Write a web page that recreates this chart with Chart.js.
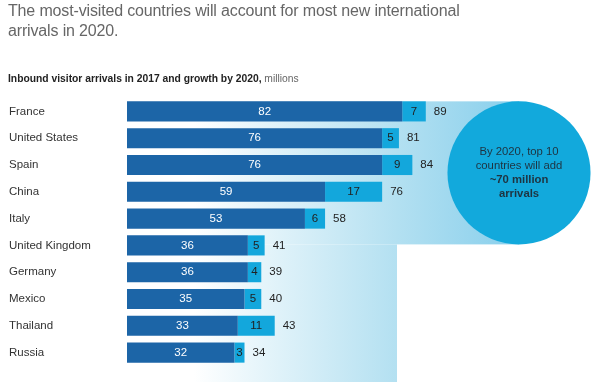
<!DOCTYPE html>
<html lang="en">
<head>
<meta charset="UTF-8">
<title>Inbound visitor arrivals</title>
<style>
  html, body { margin: 0; padding: 0; background: #fff; }
  body { width: 605px; height: 383px; position: relative; overflow: hidden; font-family: "Liberation Sans", Arial, sans-serif; }
  .title { position: absolute; left: 8px; top: 1px; font-size: 16px; line-height: 20px; color: #666; letter-spacing: -0.15px; }
  .subtitle { position: absolute; left: 8px; top: 72px; font-size: 10.3px; line-height: 13px; color: #222; font-weight: bold; }
  .subtitle span { font-weight: normal; color: #666; }
  .chart-box { position: absolute; left: 0; top: 0; width: 605px; height: 383px; }
</style>
<script src="https://cdn.jsdelivr.net/npm/chart.js"></script>
</head>
<body>
<div class="chart-box"><canvas id="arrivals" width="605" height="383"></canvas></div>
<div class="title">The most-visited countries will account for most new international<br>arrivals in 2020.</div>
<div class="subtitle">Inbound visitor arrivals in 2017 and growth by 2020, <span>millions</span></div>

<script>
const countries = ["France", "United States", "Spain", "China", "Italy", "United Kingdom", "Germany", "Mexico", "Thailand", "Russia"];
const arrivals2017 = [82, 76, 76, 59, 53, 36, 36, 35, 33, 32];
const growthTo2020 = [7, 5, 9, 17, 6, 5, 4, 5, 11, 3];
const totals2020 = [89, 81, 84, 76, 58, 41, 39, 40, 43, 34];
const calloutLines = [["By 2020, top 10", false], ["countries will add", false], ["~70 million", true], ["arrivals", true]];

const darkBlue = '#1c65a7';
const lightBlue = '#13a7dc';

Chart.defaults.font.family = '"Liberation Sans", Arial, sans-serif';
Chart.defaults.font.size = 11;
Chart.defaults.color = '#333';

// gradient panel + circle callout behind the bars
const backdrop = {
  id: 'backdrop',
  beforeDatasetsDraw(chart) {
    const ctx = chart.ctx;
    const x = chart.scales.x, y = chart.scales.y;
    const bar0 = chart.getDatasetMeta(0).data[0];
    const top = bar0.y - bar0.height / 2;
    const step = y.getPixelForValue(5) - 1;
    const left = x.getPixelForValue(0);
    const r = (step - top) / 2;
    const cx = left + 392, cy = top + r;
    const lowRight = left + 270;

    const g = ctx.createLinearGradient(left, 0, cx, 0);
    g.addColorStop(0, '#ffffff');
    g.addColorStop(0.17, '#ffffff');
    g.addColorStop(0.69, '#b3e0f1');
    g.addColorStop(1, '#88cfec');
    ctx.save();
    ctx.fillStyle = g;
    ctx.fillRect(left, top, cx - left, step - top);
    ctx.fillRect(left, step, lowRight - left, chart.height - 1 - step);

    ctx.beginPath();
    ctx.arc(cx, cy, r, 0, Math.PI * 2);
    ctx.fillStyle = '#12a9dc';
    ctx.fill();

    ctx.fillStyle = '#1f3340';
    ctx.textAlign = 'center';
    ctx.textBaseline = 'middle';
    calloutLines.forEach(([txt, bold], i) => {
      ctx.font = (bold ? 'bold ' : '') + '11.3px "Liberation Sans", Arial, sans-serif';
      ctx.fillText(txt, cx, cy - 21 + i * 14);
    });
    ctx.restore();
  }
};

const barLabels = {
  id: 'barLabels',
  afterDatasetsDraw(chart) {
    const ctx = chart.ctx;
    const base = chart.getDatasetMeta(0).data;
    const add = chart.getDatasetMeta(1).data;
    ctx.save();
    ctx.font = '11.5px "Liberation Sans", Arial, sans-serif';
    ctx.textBaseline = 'middle';
    ctx.textAlign = 'center';
    base.forEach((bar, i) => {
      ctx.fillStyle = '#fff';
      ctx.fillText(arrivals2017[i], (bar.x + bar.base) / 2, bar.y);
      const b2 = add[i];
      ctx.fillStyle = '#222';
      ctx.fillText(growthTo2020[i], (b2.x + b2.base) / 2, b2.y);
      ctx.textAlign = 'left';
      ctx.fillText(totals2020[i], b2.x + 8, b2.y);
      ctx.textAlign = 'center';
    });
    ctx.restore();
  }
};

new Chart(document.getElementById('arrivals'), {
  type: 'bar',
  data: {
    labels: countries,
    datasets: [
      { label: '2017', data: arrivals2017, backgroundColor: darkBlue, borderWidth: 0 },
      { label: 'Growth by 2020', data: growthTo2020, backgroundColor: lightBlue, borderWidth: 0 }
    ]
  },
  options: {
    indexAxis: 'y',
    responsive: false,
    animation: false,
    layout: { padding: { top: 98, bottom: 17, left: 9, right: 8 } },
    datasets: { bar: { categoryPercentage: 1, barPercentage: 0.75 } },
    scales: {
      x: { stacked: true, display: false, min: 0, max: 140 },
      y: {
        stacked: true,
        grid: { display: false, drawTicks: false },
        border: { display: false },
        ticks: { crossAlign: 'far', color: '#333', font: { size: 11.5 } },
        afterFit(scale) { scale.width = 118; }
      }
    },
    plugins: { legend: { display: false }, tooltip: { enabled: false } }
  },
  plugins: [backdrop, barLabels]
});
</script>
</body>
</html>
